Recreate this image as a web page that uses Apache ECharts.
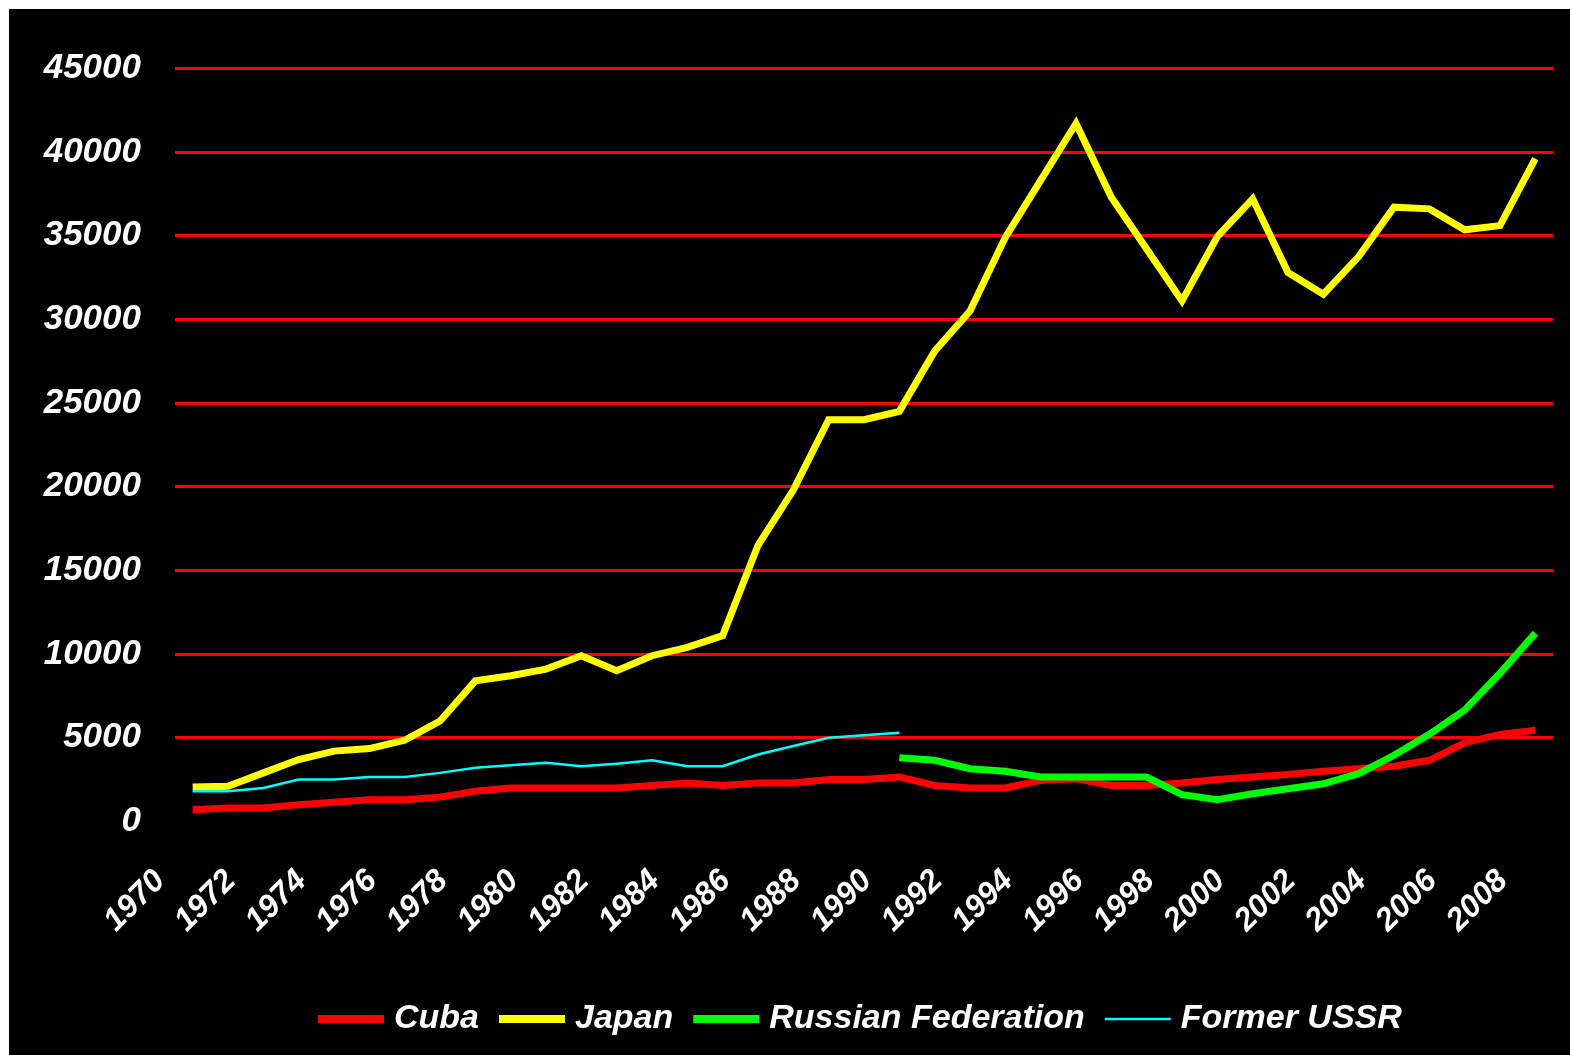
<!DOCTYPE html>
<html>
<head>
<meta charset="utf-8">
<title>Cuba, Japan, Russian Federation, Former USSR</title>
<script src="https://cdn.jsdelivr.net/npm/echarts@6/dist/echarts.min.js"></script>
<style>
  html, body { margin: 0; padding: 0; background: #ffffff; }
  #chart { position: absolute; left: 9px; top: 9px; width: 1561px; height: 1046px; background: #000000; }
</style>
</head>
<body>
<div id="chart"></div>
<script>
// Years on the category axis
const years = [];
for (let y = 1970; y <= 2008; y++) years.push(String(y));

// Y axis tick values
const yTicks = [0, 5000, 10000, 15000, 20000, 25000, 30000, 35000, 40000, 45000];

const cuba = [
  700, 800, 800, 1000, 1150, 1300, 1300, 1450, 1800, 2000,
  2000, 2000, 2000, 2150, 2300, 2150, 2300, 2300, 2500, 2500,
  2650, 2150, 2000, 2000, 2450, 2550, 2150, 2150, 2300, 2500,
  2650, 2800, 3000, 3150, 3300, 3650, 4700, 5200, 5450
];

const japan = [
  2050, 2100, 2900, 3700, 4200, 4350, 4850, 6000, 8400, 8700,
  9100, 9900, 9000, 9900, 10400, 11100, 16500, 19800, 24000, 24000,
  24500, 28100, 30500, 34900, 38300, 41700, 37300, 34200, 31100, 34950,
  37200, 32800, 31500, 33750, 36700, 36600, 35350, 35600, 39600
];

const russianFederation = [
  null, null, null, null, null, null, null, null, null, null,
  null, null, null, null, null, null, null, null, null, null,
  3800, 3650, 3150, 3000, 2650, 2650, 2650, 2650, 1600, 1300,
  1650, 1950, 2250, 2850, 3950, 5200, 6650, 8850, 11250
];

const formerUSSR = [
  1800, 1800, 2000, 2500, 2500, 2650, 2650, 2900, 3200, 3350,
  3500, 3300, 3450, 3650, 3300, 3300, 4000, 4500, 5000, 5150,
  5300, null, null, null, null, null, null, null, null, null,
  null, null, null, null, null, null, null, null, null
];

const labelFont = {
  color: '#ffffff',
  fontFamily: '"Liberation Sans", Arial, sans-serif',
  fontWeight: 'bold',
  fontStyle: 'italic'
};

// Legend keys: a thick bar, and a thin bar kept at its true thickness
// by two empty corner points that fix the icon's bounding box.
const thickKey = 'path://M0,0 L66,0 L66,8 L0,8 Z';
const thinKey = 'path://M0,0 L0,0 Z M66,8 L66,8 Z M0,2.7 L66,2.7 L66,5.3 L0,5.3 Z';

function lineSeries(name, data, color, width) {
  return {
    name: name,
    type: 'line',
    data: data,
    symbol: 'none',
    showSymbol: false,
    connectNulls: false,
    animation: false,
    lineStyle: { color: color, width: width, cap: 'butt', join: 'miter' },
    itemStyle: { color: color }
  };
}

const chart = echarts.init(document.getElementById('chart'), null, { renderer: 'canvas' });
chart.setOption({
  backgroundColor: '#000000',
  animation: false,
  grid: { left: 166, right: 17, top: 59.3, bottom: 233.6, containLabel: false },
  legend: {
    left: 304,
    top: 988,
    itemWidth: 66,
    itemHeight: 8,
    itemGap: 20,
    textStyle: Object.assign({ fontSize: 34, padding: [0, 0, 0, 5] }, labelFont),
    data: [
      { name: 'Cuba', icon: thickKey },
      { name: 'Japan', icon: thickKey },
      { name: 'Russian Federation', icon: thickKey },
      { name: 'Former USSR', icon: thinKey }
    ]
  },
  xAxis: {
    type: 'category',
    data: years,
    boundaryGap: true,
    axisLine: { show: false },
    axisTick: { show: false },
    splitLine: { show: false },
    axisLabel: Object.assign({
      interval: 1,
      rotate: 45,
      fontSize: 32,
      margin: 22,
      padding: [0, 46, 0, 0]
    }, labelFont)
  },
  yAxis: {
    type: 'value',
    min: yTicks[0],
    max: yTicks[yTicks.length - 1],
    interval: yTicks[1] - yTicks[0],
    axisLine: { show: false },
    axisTick: { show: false },
    splitLine: { show: true, showMinLine: false, lineStyle: { color: '#ff0000', width: 3 } },
    axisLabel: Object.assign({ fontSize: 35, margin: 34, formatter: v => String(v) }, labelFont)
  },
  series: [
    lineSeries('Cuba', cuba, '#ff0000', 7),
    lineSeries('Japan', japan, '#ffff00', 7),
    lineSeries('Russian Federation', russianFederation, '#00ff00', 7),
    lineSeries('Former USSR', formerUSSR, '#00ffff', 2.5)
  ]
});
</script>
</body>
</html>
